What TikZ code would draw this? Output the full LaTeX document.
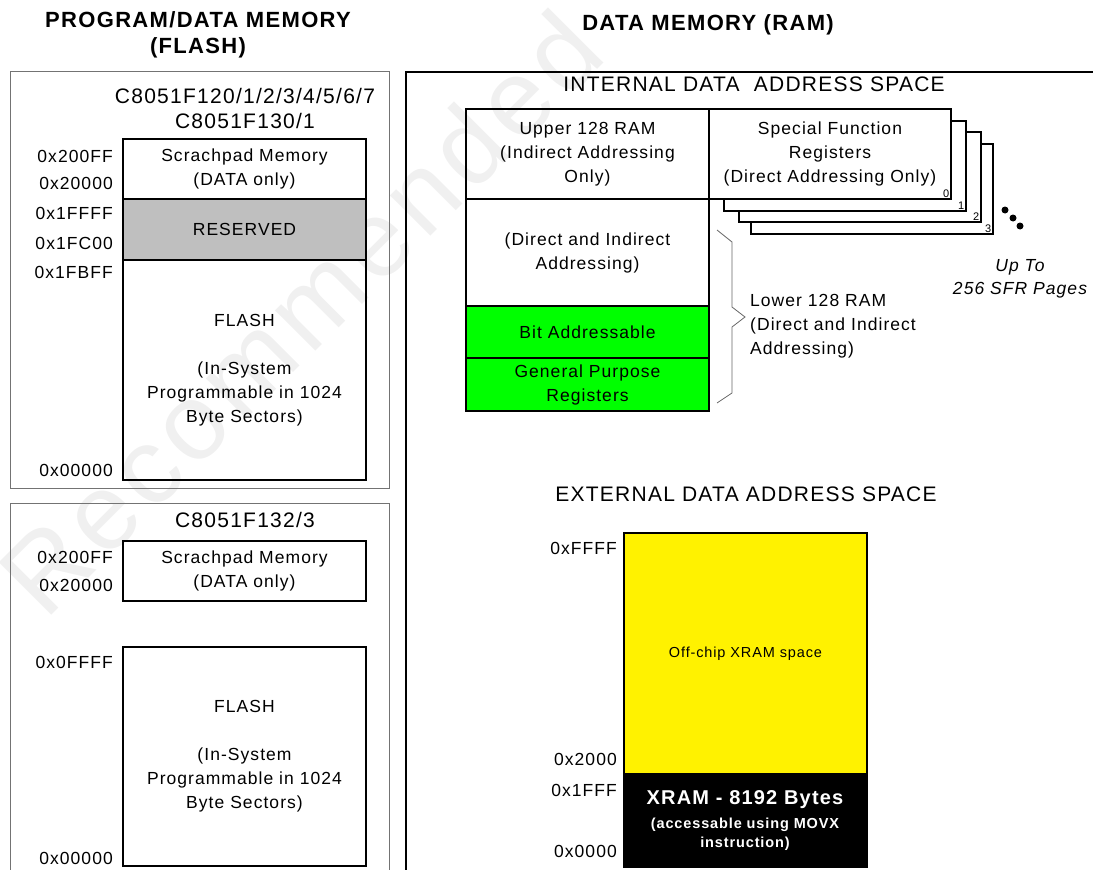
\documentclass[tikz,border=0pt]{standalone}
\usepackage{fontspec}
\setmainfont{Liberation Sans}[LetterSpace=6]
\usetikzlibrary{arrows}

\begin{document}
\begin{tikzpicture}[x=1pt, y=-1pt, font=\fontsize{17.5}{24}\selectfont, >=latex]
      \tikzstyle{outer}=[draw=black!55, line width=1pt]
      \tikzstyle{blk}=[draw=black, line width=1.5pt]
      \tikzstyle{txt}=[align=center, inner sep=0pt]
      \tikzstyle{addr}=[anchor=east, inner sep=0pt]
      \tikzstyle{head}=[align=center, inner sep=0pt, font=\fontsize{21}{25}\selectfont]
      \tikzstyle{title}=[align=center, inner sep=0pt, font=\bfseries\fontsize{22}{26}\selectfont]
      \tikzstyle{pagenr}=[anchor=south east, inner sep=1.5pt, font=\fontsize{11}{11}\selectfont]
      \useasboundingbox (0,0) rectangle (1093,870);
      \node[rotate=45, inner sep=0pt, text=black!6, font=\fontsize{108}{108}\selectfont] (wm) at (300,312) {Recommended};
      % flash side
      \node[title] (tflash) at (198,35) {PROGRAM/DATA MEMORY\\(FLASH)};
      \draw[outer] (10,71) rectangle (389,488);
      \draw[outer] (10,870) -- (10,503) -- (389,503) -- (389,870);
      \node[head] (dev1) at (245,108) {C8051F120/1/2/3/4/5/6/7\\C8051F130/1};
      \node[head] (dev2) at (245,520) {C8051F132/3};
      \draw[blk] (123,139) rectangle (366,199) node[txt, pos=.5] (scr1) {Scrachpad Memory\\(DATA only)};
      \draw[blk, fill=black!25] (123,199) rectangle (366,260) node[txt, pos=.5] (res1) {RESERVED};
      \draw[blk] (123,260) rectangle (366,480) node[txt, pos=.5] (fl1) {FLASH\\[24pt](In-System\\Programmable in 1024\\Byte Sectors)};
      \draw[blk] (123,541) rectangle (366,601) node[txt, pos=.5] (scr2) {Scrachpad Memory\\(DATA only)};
      \draw[blk] (123,647) rectangle (366,866) node[txt, pos=.5] (fl2) {FLASH\\[24pt](In-System\\Programmable in 1024\\Byte Sectors)};
      \node[addr] (a1) at (113,156) {0x200FF};
      \node[addr] (a2) at (113,183) {0x20000};
      \node[addr] (a3) at (113,213) {0x1FFFF};
      \node[addr] (a4) at (113,243) {0x1FC00};
      \node[addr] (a5) at (113,272) {0x1FBFF};
      \node[addr] (a6) at (113,470) {0x00000};
      \node[addr] (b1) at (113,557) {0x200FF};
      \node[addr] (b2) at (113,585) {0x20000};
      \node[addr] (b3) at (113,662) {0x0FFFF};
      \node[addr] (b4) at (113,858) {0x00000};
      % ram side
      \node[title] (tram) at (708,25) {DATA MEMORY (RAM)};
      \draw[black, line width=1.2pt] (1093,72) -- (406,72) -- (406,870);
      \node[head] (int) at (754,84) {INTERNAL DATA\ \ ADDRESS SPACE};
      \foreach \i/\dx/\dy in {3/42/35, 2/30/23, 1/15/12} {
        \draw[blk, fill=white] (709+\dx,109+\dy) rectangle (951+\dx,199+\dy);
        \node[pagenr] (p\i) at (951+\dx,199+\dy) {\i};
      }
      \draw[blk, fill=white] (709,109) rectangle (951,199) node[txt, pos=.5] (sfr) {Special Function\\Registers\\(Direct Addressing Only)};
      \node[pagenr] (p0) at (951,199) {0};
      \draw[blk] (466,109) rectangle (709,199) node[txt, pos=.5] (up) {Upper 128 RAM\\(Indirect Addressing\\Only)};
      \draw[blk] (466,199) rectangle (709,306) node[txt, pos=.5] (low) {(Direct and Indirect\\Addressing)};
      \draw[blk, fill=green] (466,306) rectangle (709,358) node[txt, pos=.5] (bit) {Bit Addressable};
      \draw[blk, fill=green] (466,358) rectangle (709,411) node[txt, pos=.5] (gpr) {General Purpose\\Registers};
      \draw[black!60, line width=0.8pt] (717,230) -- (732,242) -- (732,307) -- (745,317) -- (732,327) -- (732,393) -- (717,403);
      \node[anchor=west, align=left, inner sep=0pt] (lowlbl) at (750,326) {Lower 128 RAM\\(Direct and Indirect\\Addressing)};
      \fill (1005,210) circle (3.5) (1013,218) circle (3.5) (1020,226) circle (3.5);
      \node[txt, font=\itshape\fontsize{17.5}{23}\selectfont] (pages) at (1020,279) {Up To\\256 SFR Pages};
      \node[head] (ext) at (746,494) {EXTERNAL DATA ADDRESS SPACE};
      \draw[blk, fill=yellow] (624,533) rectangle (867,774) node[txt, pos=.5, font=\fontsize{14.5}{16}\selectfont] (off) {Off-chip XRAM space};
      \draw[blk, fill=black] (624,774) rectangle (867,867);
      \node[txt, text=white, font=\bfseries\fontsize{20}{24}\selectfont] (xram) at (745,800) {XRAM - 8192 Bytes};
      \node[txt, text=white, font=\bfseries\fontsize{14.5}{19.5}\selectfont] (movx) at (745,834) {(accessable using MOVX\\instruction)};
      \node[addr] (c1) at (617,548) {0xFFFF};
      \node[addr] (c2) at (617,759) {0x2000};
      \node[addr] (c3) at (617,790) {0x1FFF};
      \node[addr] (c4) at (617,851) {0x0000};
\end{tikzpicture}
\end{document}
